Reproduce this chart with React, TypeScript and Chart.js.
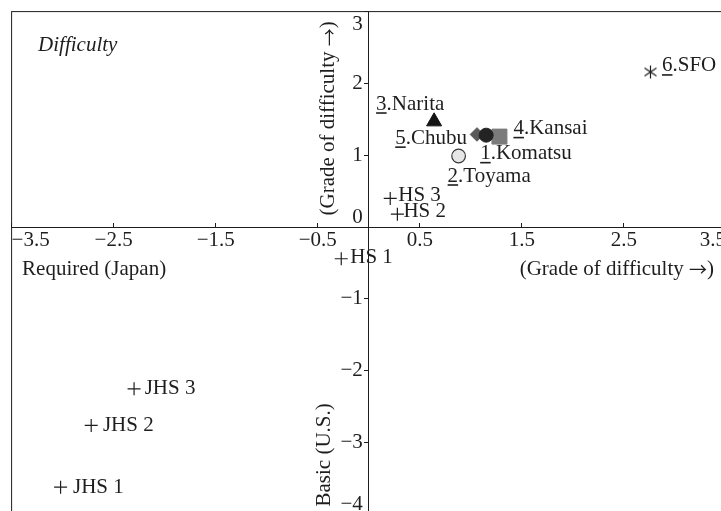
import React, { useEffect, useRef } from "react";
import { Chart, registerables } from "chart.js";

Chart.register(...registerables);

// ---------- data ----------
const airportNames = ["Komatsu", "Toyama", "Narita", "Kansai", "Chubu", "SFO"];
const airportNumbers = ["1", "2", "3", "4", "5", "6"];
const airportX = [1.15, 0.88, 0.64, 1.28, 1.06, 2.76];
const airportY = [1.28, 0.99, 1.47, 1.26, 1.29, 2.16];

const schoolNames = ["HS 3", "HS 2", "HS 1", "JHS 3", "JHS 2", "JHS 1"];
const schoolX = [0.21, 0.28, -0.27, -2.3, -2.72, -3.02];
const schoolY = [0.4, 0.18, -0.44, -2.25, -2.76, -3.62];

const xTicks = [-3.5, -2.5, -1.5, -0.5, 0.5, 1.5, 2.5, 3.5];
const yTicks = [3, 2, 1, 0, -1, -2, -3, -4];

// ---------- styles ----------
const FONT = "Liberation Serif";
const ARROW_FONT = "Noto Sans CJK JP";
const INK = "#1e1e1e";

const airportStyles: any[] = [
  { pointStyle: "circle", radius: 7, bg: "#232323", border: "#232323", bw: 1 },
  { pointStyle: "circle", radius: 6.8, bg: "#e6e6e6", border: "#3a3a3a", bw: 1.2 },
  { pointStyle: "triangle", radius: 8.7, bg: "#141414", border: "#141414", bw: 1 },
  { pointStyle: "rect", radius: 10.6, bg: "#7b7b7b", border: "#7b7b7b", bw: 1 },
  { pointStyle: "rectRot", radius: 6.8, bg: "#5a5a5a", border: "#5a5a5a", bw: 1 },
  { pointStyle: "asterisk", radius: 7, bg: INK, border: INK, bw: 1 },
];
// label placement relative to the marker: [dx, dy, align]
const airportLabelPlace: [number, number, CanvasTextAlign][] = [
  [-6, 18.5, "left"],
  [-11, 20, "left"],
  [-58, -17.5, "left"],
  [14, -8, "left"],
  [-10, 3.7, "right"],
  [11.5, -6, "left"],
];
const schoolLabelPlace: [number, number][] = [
  [8, -2.5],
  [6, -2.3],
  [9, -1],
  [10.6, 0],
  [11.7, 0],
  [12.4, 0],
];

const fmt = (v: number) => String(v).replace("-", "\u2212");

function makeAsterisk(): HTMLCanvasElement {
  const c = document.createElement("canvas");
  c.width = 15;
  c.height = 15;
  const g = c.getContext("2d")!;
  g.strokeStyle = INK;
  g.lineWidth = 1.2;
  g.beginPath();
  g.moveTo(7.5, 1);
  g.lineTo(7.5, 14);
  g.moveTo(1.5, 3.5);
  g.lineTo(13.5, 11.5);
  g.moveTo(1.5, 11.5);
  g.lineTo(13.5, 3.5);
  g.stroke();
  return c;
}

// draws "(Grade of difficulty →)" with a wider arrow glyph; x is the anchor per align
function drawArrowTitle(ctx: CanvasRenderingContext2D, x: number, y: number, align: "left" | "right" | "center") {
  const a = "(Grade of difficulty ";
  const arrow = "\u2192";
  const b = ")";
  const tf = `21px "${FONT}"`;
  const af = `18px "${ARROW_FONT}"`;
  ctx.font = tf;
  const wa = ctx.measureText(a).width;
  const wb = ctx.measureText(b).width;
  ctx.font = af;
  const wr = ctx.measureText(arrow).width;
  const total = wa + wr + wb;
  let left = x;
  if (align === "right") left = x - total;
  if (align === "center") left = x - total / 2;
  ctx.textAlign = "left";
  ctx.font = tf;
  ctx.fillText(a, left, y);
  ctx.font = af;
  ctx.fillText(arrow, left + wa, y);
  ctx.font = tf;
  ctx.fillText(b, left + wa + wr, y);
}

const textPlugin = {
  id: "textPlugin",
  afterDraw(chart: any) {
    const ctx: CanvasRenderingContext2D = chart.ctx;
    const area = chart.chartArea;
    const xs = chart.scales.x;
    const ys = chart.scales.y;
    const axisX = xs.getPixelForValue(0);
    const axisY = ys.getPixelForValue(0);
    ctx.save();
    // frame
    ctx.strokeStyle = INK;
    ctx.lineWidth = 1;
    ctx.strokeRect(area.left, area.top, area.right - area.left, area.bottom - area.top);

    ctx.fillStyle = INK;
    ctx.font = `21px "${FONT}"`;
    ctx.textBaseline = "middle";

    // y tick labels (kept inside the frame)
    ctx.textAlign = "right";
    ys.ticks.forEach((t: any) => {
      let py = ys.getPixelForValue(t.value);
      if (t.value === 0) py -= 9.5;
      py = Math.max(py, area.top + 12.5);
      py = Math.min(py, area.bottom - 10);
      ctx.fillText(fmt(t.value), axisX - 6, py);
    });

    // axis titles
    ctx.textAlign = "left";
    ctx.fillText("Required (Japan)", area.left + 10.5, axisY + 42);
    drawArrowTitle(ctx, xs.getPixelForValue(3.5) - 12, axisY + 42, "right");

    ctx.save();
    ctx.translate(axisX - 40, (area.top + axisY) / 2 - 1);
    ctx.rotate(-Math.PI / 2);
    drawArrowTitle(ctx, 0, 0, "center");
    ctx.restore();

    ctx.save();
    ctx.font = `21px "${FONT}"`;
    ctx.translate(axisX - 44, ys.getPixelForValue(-3.17));
    ctx.rotate(-Math.PI / 2);
    ctx.textAlign = "center";
    ctx.fillText("Basic (U.S.)", 0, 0);
    ctx.restore();

    ctx.font = `italic 21px "${FONT}"`;
    ctx.textAlign = "left";
    ctx.fillText("Difficulty", area.left + 26.5, area.top + 34);

    // airport labels with underlined number
    ctx.font = `21px "${FONT}"`;
    airportNames.forEach((name, i) => {
      const meta = chart.getDatasetMeta(i);
      const el = meta.data[0];
      const [dx, dy, align] = airportLabelPlace[i];
      const num = airportNumbers[i];
      const full = `${num}.${name}`;
      const w = ctx.measureText(full).width;
      const nw = ctx.measureText(num).width;
      const left = align === "right" ? el.x + dx - w : el.x + dx;
      const cy = el.y + dy;
      ctx.textAlign = "left";
      ctx.fillText(full, left, cy);
      ctx.beginPath();
      ctx.lineWidth = 1.6;
      ctx.moveTo(left, cy + 9);
      ctx.lineTo(left + nw, cy + 9);
      ctx.stroke();
    });

    // school labels
    const sMeta = chart.getDatasetMeta(airportNames.length);
    schoolNames.forEach((name, i) => {
      const el = sMeta.data[i];
      const [dx, dy] = schoolLabelPlace[i];
      ctx.textAlign = "left";
      ctx.fillText(name, el.x + dx, el.y + dy);
    });
    ctx.restore();
  },
};

export default function App() {
  const ref = useRef<HTMLCanvasElement>(null);
  useEffect(() => {
    if (!ref.current) return;
    const asterisk = makeAsterisk();
    const airportSets = airportNames.map((name, i) => {
      const s = airportStyles[i];
      return {
        label: name,
        data: [{ x: airportX[i], y: airportY[i] }],
        pointStyle: s.pointStyle === "asterisk" ? asterisk : s.pointStyle,
        pointRadius: s.radius,
        backgroundColor: s.bg,
        borderColor: s.border,
        borderWidth: s.bw,
        showLine: false,
      };
    });
    const schoolSet = {
      label: "School",
      data: schoolX.map((x, i) => ({ x, y: schoolY[i] })),
      pointStyle: "cross",
      pointRadius: 6.5,
      borderColor: INK,
      backgroundColor: INK,
      borderWidth: 1.2,
      showLine: false,
    };
    const chart = new Chart(ref.current, {
      type: "scatter",
      data: { datasets: [...airportSets, schoolSet] as any },
      options: {
        animation: false,
        responsive: false,
        maintainAspectRatio: false,
        devicePixelRatio: 1,
        layout: { padding: { left: 10.5, top: 10.5, right: 14, bottom: 15.5 } },
        plugins: { legend: { display: false }, tooltip: { enabled: false } },
        scales: {
          x: {
            type: "linear",
            min: -3.5,
            max: 3.5,
            position: { y: 0 } as any,
            afterBuildTicks: (s: any) => {
              s.ticks = xTicks.map((v) => ({ value: v }));
            },
            grid: { drawOnChartArea: false, drawTicks: true, tickLength: -5, color: INK, lineWidth: 1 },
            border: { display: true, color: INK, width: 1 },
            ticks: {
              align: "inner",
              padding: 5.6,
              color: INK,
              autoSkip: false,
              maxRotation: 0,
              font: { family: FONT, size: 21 },
              callback: (v: any) => fmt(Number(v)),
            },
          },
          y: {
            type: "linear",
            min: -4,
            max: 3,
            position: { x: 0 } as any,
            afterBuildTicks: (s: any) => {
              s.ticks = yTicks.map((v) => ({ value: v }));
            },
            grid: { drawOnChartArea: false, drawTicks: true, tickLength: 4, color: INK, lineWidth: 1 },
            border: { display: true, color: INK, width: 1 },
            ticks: { display: false },
          },
        },
      },
      plugins: [textPlugin],
    });
    return () => chart.destroy();
  }, []);
  return (
    <div
      style={{
        position: "fixed",
        left: 0,
        top: 0,
        width: 721,
        height: 511,
        overflow: "hidden",
        background: "#fff",
      }}
    >
      <canvas ref={ref} width={740} height={530} style={{ display: "block" }} />
    </div>
  );
}
